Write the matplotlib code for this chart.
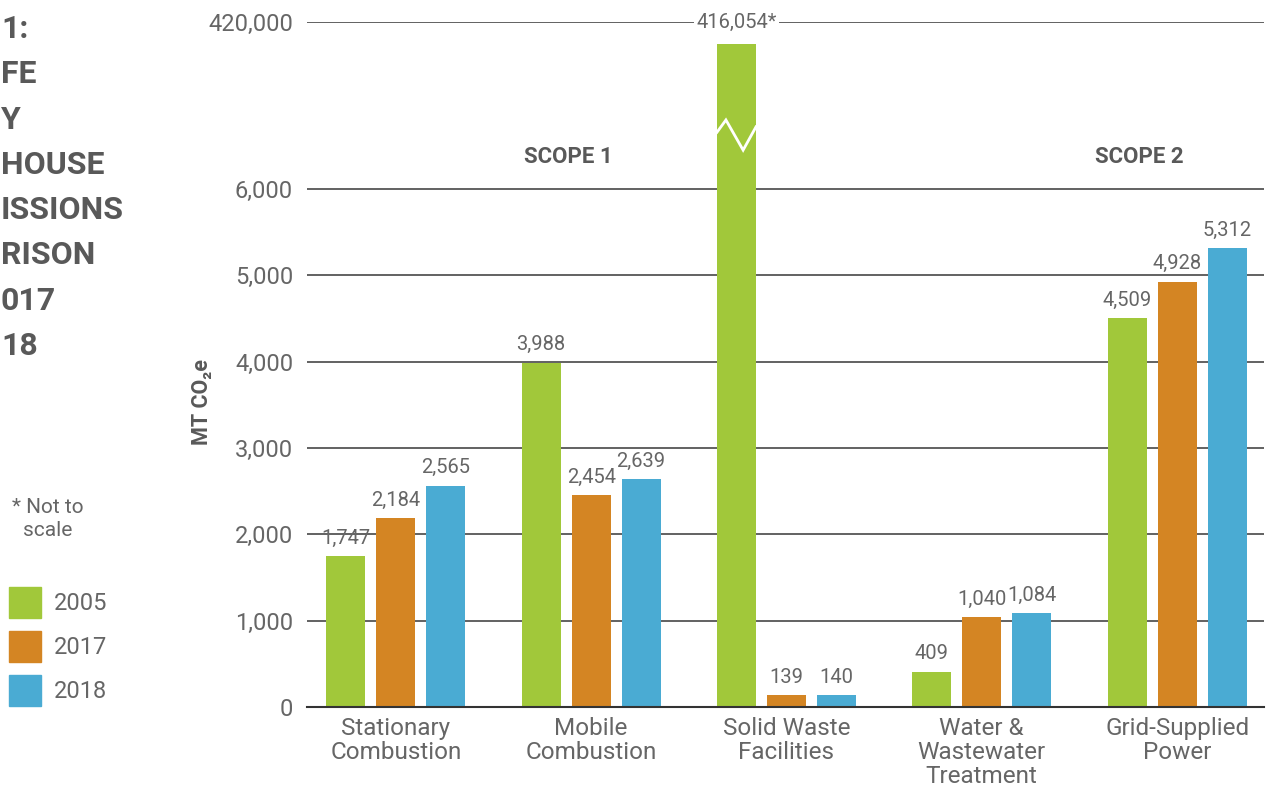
import numpy as np
import matplotlib.pyplot as plt
from matplotlib.patches import Rectangle
from matplotlib.transforms import blended_transform_factory

# datos del grafico
categories = ['Stationary\nCombustion', 'Mobile\nCombustion', 'Solid Waste\nFacilities',
              'Water &\nWastewater\nTreatment', 'Grid-Supplied\nPower']
years = ['2005', '2017', '2018']
emissions_2005 = [1747, 3988, 416054, 409, 4509]
emissions_2017 = [2184, 2454, 139, 1040, 4928]
emissions_2018 = [2565, 2639, 140, 1084, 5312]
colors = ['#A1C83A', '#D48523', '#4AABD3']
y_ticks = [0, 1000, 2000, 3000, 4000, 5000, 6000, 420000]
title_bits = ['1:', 'FE', 'Y', 'HOUSE', 'ISSIONS', 'RISON', '017', '18']

W, H = 1274, 787
GRAY = '#666666'
DARK = '#595959'

fig = plt.figure(figsize=(W / 100, H / 100), dpi=100)
ax = fig.add_axes([307 / W, 1 - 707 / H, (1264 - 307) / W, (707 - 22) / H])

# eje cortado: 0-6000 lineal, arriba comprimido
brk_data = [0, 6000, 416054, 420000]
brk_disp = [0, 6000, 7680, 7935]


def fwd(v):
    return np.interp(v, brk_data, brk_disp)


def inv(d):
    return np.interp(d, brk_disp, brk_data)


ax.set_yscale('function', functions=(fwd, inv))

series = [emissions_2005, emissions_2017, emissions_2018]
x = np.arange(len(categories))
w = 0.2
step = 0.256
all_bars = []
for i, (vals, c) in enumerate(zip(series, colors)):
    bars = ax.bar(x + (i - 1) * step, vals, w, color=c, zorder=2)
    all_bars.append(bars)
    for b, v in zip(bars, vals):
        cx = b.get_x() + b.get_width() / 2
        if v > 6000:
            ax.text(cx, 420000, f'{v:,}*', ha='center', va='center', fontsize=14.5,
                    family='Roboto', color=GRAY, zorder=4, clip_on=False,
                    bbox=dict(facecolor='white', edgecolor='none', pad=1.5))
        else:
            ax.annotate(f'{v:,}', (cx, v), xytext=(0, 6), textcoords='offset points',
                        ha='center', va='bottom', fontsize=14.5, family='Roboto', color=GRAY)

# zigzag blanco en la barra fuera de escala
big = all_bars[0][2]
bx, bw = big.get_x(), big.get_width()
trans = blended_transform_factory(ax.transData, ax.transAxes)
ax.plot(bx + bw * np.array([0, 0.23, 0.67, 1.0]), [0.839, 0.857, 0.813, 0.847],
        color='white', lw=2, transform=trans, zorder=3, solid_joinstyle='miter')

ax.set_xlim(-0.455, len(categories) - 1 + 0.445)
ax.set_ylim(0, 420000)
ax.set_yticks(y_ticks)
ax.set_yticklabels([f'{t:,}' for t in y_ticks])
ax.set_xticks(x)
ax.set_xticklabels(categories, linespacing=1.05)
ax.tick_params(axis='y', length=0, pad=10, labelsize=17, labelcolor=GRAY)
ax.tick_params(axis='x', length=0, pad=7, labelsize=17.5, labelcolor=GRAY)
for lab in ax.get_xticklabels() + ax.get_yticklabels():
    lab.set_family('Roboto')

ax.grid(axis='y', color='#555555', lw=1.3, zorder=0)
ax.set_axisbelow(True)
for s in ['top', 'left', 'right']:
    ax.spines[s].set_visible(False)
ax.spines['bottom'].set_color('#333333')
ax.spines['bottom'].set_linewidth(1.5)
ax.spines['bottom'].set_zorder(3)

ax.text(0.273, 0.803, 'SCOPE 1', transform=ax.transAxes, ha='center', va='center',
        fontsize=16, family='Roboto', weight='bold', color=DARK)
ax.text(0.870, 0.803, 'SCOPE 2', transform=ax.transAxes, ha='center', va='center',
        fontsize=16, family='Roboto', weight='bold', color=DARK)

fig.text(202 / W, 1 - 402 / H, 'MT CO\u2082e', rotation=90, ha='center', va='center',
         fontsize=15.5, family=['Roboto', 'DejaVu Sans'], weight='bold', color=DARK)

# titulo (solo lo visible del original)
for i, t in enumerate(title_bits):
    fig.text(1 / W, 1 - (38 + 45.3 * i) / H, t, ha='left', va='baseline',
             fontsize=23, family='Roboto', weight='bold', color=DARK)

fig.text(48 / W, 1 - 519 / H, '* Not to\nscale', ha='center', va='center',
         fontsize=15, family='Roboto', color=GRAY, linespacing=1.3)

# leyenda a mano
for i, (c, yr) in enumerate(zip(colors, years)):
    top = 587 + 44 * i
    fig.add_artist(Rectangle((9 / W, 1 - (top + 31) / H), 32 / W, 31 / H,
                             transform=fig.transFigure, color=c))
    fig.text(54 / W, 1 - (top + 16) / H, yr, ha='left', va='center',
             fontsize=17, family='Roboto', color=GRAY)

fig.savefig('out.png', dpi=100)
